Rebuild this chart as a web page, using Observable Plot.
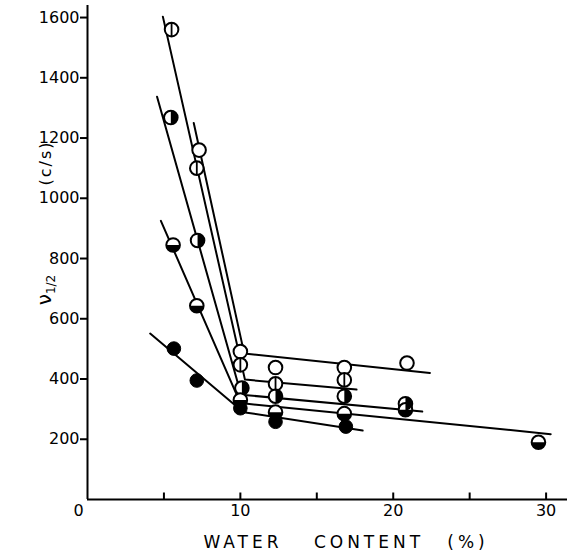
<!DOCTYPE html>
<html><head><meta charset="utf-8">
<script src="https://cdn.jsdelivr.net/npm/d3@7"></script>
<script src="https://cdn.jsdelivr.net/npm/@observablehq/plot@0.6"></script>
<style>body{margin:0;background:#fff} #chart svg{display:block}</style>
</head><body><div id="chart"></div>
<script>
// Measured points, one array pair per marker type
const openX = [7.3, 10.0, 12.3, 16.8, 20.9];
const openY = [1160, 491, 438, 438, 453];
const vbarX = [5.5, 7.15, 10.0, 12.3, 16.8];
const vbarY = [1560, 1100, 447, 384, 397];
const rhalfX = [5.45, 7.2, 10.1, 12.3, 16.8, 20.8];
const rhalfY = [1268, 860, 370, 343, 343, 318];
const bhalfX = [5.6, 7.15, 10.0, 12.3, 16.8, 20.8, 29.5];
const bhalfY = [845, 643, 330, 290, 285, 298, 190];
const filledX = [5.65, 7.15, 10.0, 12.3, 16.9];
const filledY = [501, 395, 303, 258, 242];
// Fitted broken lines (start, break, end) per series
const fitSeries = ["open","open","open","vbar","vbar","vbar","rhalf","rhalf","rhalf","bhalf","bhalf","bhalf","filled","filled","filled"];
const fitX = [6.95, 10.25, 22.4, 4.93, 10.3, 17.6, 4.55, 10.05, 21.9, 4.8, 10.0, 30.3, 4.1, 10.2, 18.0];
const fitY = [1250, 485, 420, 1603, 398, 365, 1337, 348, 292, 925, 320, 217, 551, 290, 229];
// Axis ticks
const yTicks = [200, 400, 600, 800, 1000, 1200, 1400, 1600];
const xTickLabels = [10, 20, 30];
const xMinorTicks = [5, 10, 15, 20, 25, 30];

const pts = (xs, ys) => xs.map((x, i) => ({x, y: ys[i]}));
const fit = fitX.map((x, i) => ({x, y: fitY[i], s: fitSeries[i]}));
const allPts = [...pts(openX, openY), ...pts(vbarX, vbarY), ...pts(rhalfX, rhalfY), ...pts(bhalfX, bhalfY)];

const rad = size => Math.sqrt(size / Math.PI);
const halfRight = {draw(c, size) { const r = rad(size); c.moveTo(0, -r); c.arc(0, 0, r, -Math.PI / 2, Math.PI / 2); c.closePath(); }};
const halfBottom = {draw(c, size) { const r = rad(size); c.moveTo(r, 0); c.arc(0, 0, r, 0, Math.PI); c.closePath(); }};
const vBar = {draw(c, size) { const r = rad(size); c.moveTo(0, -r); c.lineTo(0, r); }};
const tickUp = {draw(c) { c.moveTo(0, 0); c.lineTo(0, -7); }};

const R = 6.8;
const plot = Plot.plot({
  width: 567, height: 556,
  marginLeft: 87, marginRight: 0, marginTop: 5, marginBottom: 57,
  style: {fontFamily: "DejaVu Sans", fontSize: "16px", color: "black", background: "white"},
  x: {domain: [0, 31.4], label: null},
  y: {domain: [0, 1640], label: null},
  marks: [
    Plot.line(fit, {x: "x", y: "y", z: "s", stroke: "black", strokeWidth: 2}),
    Plot.dot(allPts, {x: "x", y: "y", r: R, symbol: "circle", fill: "white", stroke: "black", strokeWidth: 2}),
    Plot.dot(pts(vbarX, vbarY), {x: "x", y: "y", r: R, symbol: vBar, fill: "none", stroke: "black", strokeWidth: 1.8}),
    Plot.dot(pts(rhalfX, rhalfY), {x: "x", y: "y", r: R, symbol: halfRight, fill: "black", stroke: "none"}),
    Plot.dot(pts(bhalfX, bhalfY), {x: "x", y: "y", r: R, symbol: halfBottom, fill: "black", stroke: "none"}),
    Plot.dot(pts(filledX, filledY), {x: "x", y: "y", r: R, symbol: "circle", fill: "black", stroke: "black", strokeWidth: 1}),
    Plot.ruleX([0], {stroke: "black", strokeWidth: 2}),
    Plot.ruleY([0], {stroke: "black", strokeWidth: 2}),
    Plot.dot(xMinorTicks, {x: d => d, y: 0, r: 1, symbol: tickUp, fill: "none", stroke: "black", strokeWidth: 2}),
    Plot.axisY({ticks: yTicks, tickFormat: d => String(d), tickSize: 7, tickPadding: 1, strokeWidth: 2, label: null, fontSize: 16}),
    Plot.axisX({ticks: xTickLabels, tickFormat: d => String(d), tickSize: 0, tickPadding: 5, label: null, fontSize: 16}),
    Plot.text([0], {x: d => d, y: 0, text: d => String(d), dx: -9, dy: 11, fontSize: 16, lineAnchor: "middle"})
  ]
});
document.getElementById("chart").appendChild(plot);

const svg = d3.select(plot);
const g = svg.append("g").attr("font-family", "DejaVu Sans").attr("fill", "black");
g.append("text").attr("transform", "translate(51,163) rotate(-90)").attr("text-anchor", "middle")
  .attr("font-size", 16).attr("letter-spacing", 2).text("(c/s)");
const t = g.append("text").attr("transform", "translate(51,290) rotate(-90)").attr("text-anchor", "middle").attr("font-size", 20);
t.append("tspan").text("ν");
t.append("tspan").attr("font-size", 12).attr("dy", 4).text("1/2");
[["WATER", 243], ["CONTENT", 369], ["(%)", 468]].forEach(([s, x]) => {
  g.append("text").attr("x", x).attr("y", 548).attr("text-anchor", "middle")
    .attr("font-size", 17).attr("letter-spacing", 4).text(s);
});
</script>
</body></html>
